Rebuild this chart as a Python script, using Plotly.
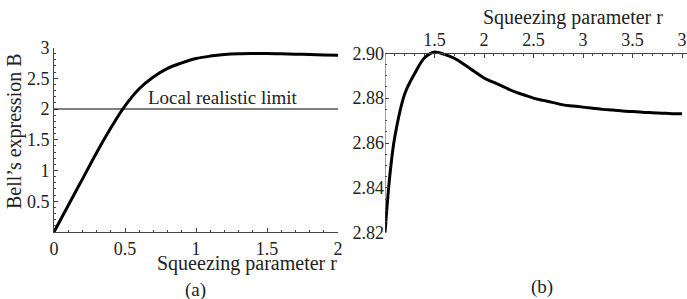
import plotly.graph_objects as go

# ---- data ----
r_a = [0, 0.1, 0.2, 0.3, 0.4, 0.5, 0.6, 0.7, 0.8, 0.9, 1.0, 1.1, 1.2, 1.3, 1.4, 1.5, 1.6, 1.7, 1.8, 1.9, 2.0]
B_a = [0, 0.43, 0.86, 1.29, 1.69, 2.05, 2.33, 2.52, 2.66, 2.75, 2.82, 2.86, 2.885, 2.897, 2.901, 2.902,
       2.898, 2.892, 2.886, 2.880, 2.875]
limit_value = 2.0

r_b = [1.0, 1.05, 1.1, 1.2, 1.3, 1.4, 1.5, 1.6, 1.7, 1.8, 1.9, 2.0, 2.1, 2.2, 2.3, 2.4, 2.5, 2.6, 2.7,
       2.8, 2.9, 3.0, 3.1, 3.2, 3.3, 3.4, 3.5, 3.6, 3.7, 3.8, 3.9, 4.0]
B_b = [2.820, 2.846, 2.863, 2.882, 2.891, 2.898, 2.9006, 2.8995, 2.8978, 2.895, 2.892, 2.889, 2.887,
       2.885, 2.883, 2.8815, 2.880, 2.879, 2.878, 2.877, 2.8765, 2.876, 2.8755, 2.875, 2.8747, 2.8743,
       2.874, 2.8737, 2.8735, 2.8733, 2.8731, 2.873]

xa_ticks = [0, 0.5, 1, 1.5, 2]
xa_labels = ["0", "0.5", "1", "1.5", "2"]
ya_ticks = [0.5, 1, 1.5, 2, 2.5, 3]
ya_labels = ["0.5", "1", "1.5", "2", "2.5", "3"]
xb_ticks = [1.5, 2, 2.5, 3, 3.5, 4]
xb_labels = ["1.5", "2", "2.5", "3", "3.5", "3"]
yb_ticks = [2.82, 2.84, 2.86, 2.88, 2.90]
yb_labels = ["2.82", "2.84", "2.86", "2.88", "2.90"]

W, H = 687, 299
FONT = "Liberation Serif"
TXT = "#222"
AX = "#444"


def px(x):
    return x / W


def py(y):
    return 1 - y / H


fig = go.Figure()
fig.add_trace(go.Scatter(x=r_a, y=B_a, mode="lines", line=dict(color="black", width=3, shape="spline"),
                         xaxis="x", yaxis="y", hoverinfo="skip"))
fig.add_trace(go.Scatter(x=r_b, y=B_b, mode="lines", line=dict(color="black", width=3, shape="spline"),
                         xaxis="x2", yaxis="y2", hoverinfo="skip"))

common = dict(showgrid=False, zeroline=False, ticks="inside", ticklen=4, tickwidth=1, tickcolor=AX,
              fixedrange=True, automargin=False)

fig.update_layout(
    template="none",
    width=W, height=H, margin=dict(l=0, r=0, t=0, b=0, autoexpand=False),
    font=dict(family=FONT, color=TXT, size=18),
    paper_bgcolor="white", plot_bgcolor="white", showlegend=False,
    xaxis=dict(domain=[px(54), px(338)], range=[0, 2], anchor="y", tickvals=xa_ticks, ticktext=xa_labels,
               showline=True, linecolor=AX, linewidth=1,
               minor=dict(dtick=0.1, ticks="inside", ticklen=2, tickcolor=AX), **common),
    yaxis=dict(domain=[py(232), py(47.5)], range=[0, 3], anchor="x", tickvals=ya_ticks, ticktext=ya_labels,
               showline=True, linecolor=AX, linewidth=1,
               minor=dict(dtick=0.1, ticks="inside", ticklen=2, tickcolor=AX), **common),
    xaxis2=dict(domain=[px(385), 1.0], range=[1, 4.05], anchor="free", position=py(53.3), side="top",
                tickvals=xb_ticks, ticktext=xb_labels, showline=True, linecolor=AX, linewidth=1,
                minor=dict(dtick=0.1, ticks="inside", ticklen=2, tickcolor=AX), **common),
    yaxis2=dict(domain=[py(232.7), py(47.7)], range=[2.82, 2.9025], anchor="x2",
                tickvals=yb_ticks, ticktext=yb_labels, showline=False,
                minor=dict(dtick=0.005, ticks="inside", ticklen=2, tickcolor=AX), **common),
)
fig.update_xaxes(tickfont=dict(family=FONT, size=18, color=TXT))
fig.update_yaxes(tickfont=dict(family=FONT, size=18, color=TXT))

fig.add_shape(type="line", xref="x", yref="y", x0=r_a[0], x1=r_a[-1], y0=limit_value, y1=limit_value,
              line=dict(color="black", width=1))
fig.add_shape(type="line", xref="x2", yref="y2", x0=r_b[0], x1=r_b[0], y0=yb_ticks[0], y1=yb_ticks[-1],
              line=dict(color=AX, width=1))

ann = [
    dict(text="Local realistic limit", x=px(223), y=py(97), xanchor="center", yanchor="middle", size=19),
    dict(text="Squeezing parameter r", x=px(339), y=py(263), xanchor="right", yanchor="middle", size=20),
    dict(text="(a)", x=px(195), y=py(290), xanchor="center", yanchor="middle", size=19),
    dict(text="(b)", x=px(542), y=py(287), xanchor="center", yanchor="middle", size=19),
    dict(text="Squeezing parameter r", x=px(573), y=py(18), xanchor="center", yanchor="middle", size=20),
]
for a in ann:
    fig.add_annotation(text=a["text"], x=a["x"], y=a["y"], xref="paper", yref="paper", showarrow=False,
                       xanchor=a["xanchor"], yanchor=a["yanchor"],
                       font=dict(family=FONT, size=a["size"], color=TXT))
fig.add_annotation(text="Bell’s expression B", x=px(15), y=py(131), xref="paper", yref="paper",
                   showarrow=False, textangle=-90, xanchor="center", yanchor="middle",
                   font=dict(family=FONT, size=20, color=TXT))

fig.write_html("out.html", config={"displayModeBar": False},
               post_script="document.body.style.margin='0';document.body.style.overflow='hidden';")
